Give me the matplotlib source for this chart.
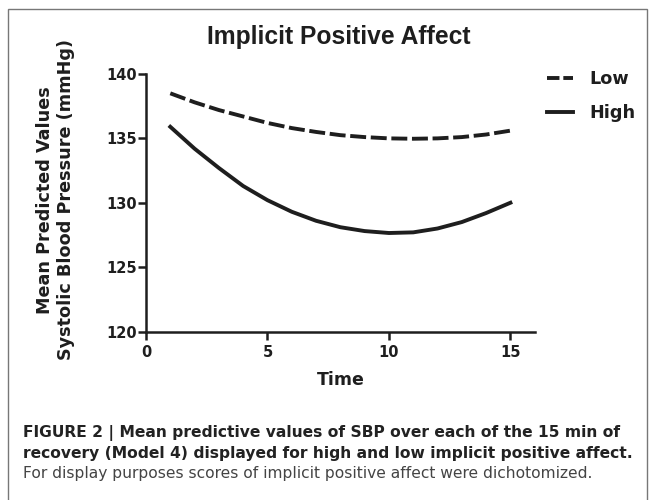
import matplotlib
matplotlib.use('Agg')
import matplotlib.pyplot as plt
from matplotlib.lines import Line2D
from matplotlib.patches import Rectangle

# minutes of recovery
time = list(range(1, 16))
# mean predicted SBP (mmHg)
low = [138.5, 137.8, 137.2, 136.7, 136.2, 135.8, 135.5, 135.25, 135.1, 135.0,
       134.97, 135.0, 135.1, 135.3, 135.6]
high = [135.9, 134.2, 132.7, 131.3, 130.2, 129.3, 128.6, 128.1, 127.8, 127.65,
        127.7, 128.0, 128.5, 129.2, 130.0]
x_ticks = [0, 5, 10, 15]
y_ticks = [120, 125, 130, 135, 140]

caption_bold = ['FIGURE 2 | Mean predictive values of SBP over each of the 15 min of',
                'recovery (Model 4) displayed for high and low implicit positive affect.']
caption_plain = 'For display purposes scores of implicit positive affect were dichotomized.'

plt.rcParams['font.family'] = ['DejaVu Sans']
ink = '#1e1e1e'
lw = 2.8

fig = plt.figure(figsize=(6.55, 5.0), dpi=100)
ax = fig.add_axes([146 / 655, 1 - 331.5 / 500, (534.7 - 146) / 655, (331.5 - 74) / 500])

ax.plot(time, low, color=ink, lw=lw, ls=(0, (4.1, 1.2)), dash_capstyle='butt')
ax.plot(time, high, color=ink, lw=lw)

ax.set_xlim(0, 16)
ax.set_ylim(120, 140)
ax.set_xticks(x_ticks)
ax.set_yticks(y_ticks)
for s in ['top', 'right']:
    ax.spines[s].set_visible(False)
for s in ['left', 'bottom']:
    ax.spines[s].set_linewidth(1.8)
    ax.spines[s].set_color(ink)
ax.tick_params(width=1.8, length=5.8, color=ink, labelsize=10.5)
ax.tick_params(axis='y', pad=1)
ax.tick_params(axis='x', pad=4)
for lab in ax.get_xticklabels() + ax.get_yticklabels():
    lab.set_fontweight('bold')
    lab.set_color(ink)

ax.set_xlabel('Time', fontsize=12.5, fontweight='bold', color=ink, labelpad=8)
fig.text(55.5 / 655, 1 - 200 / 500, 'Mean Predicted Values\nSystolic Blood Pressure (mmHg)',
         rotation=90, ha='center', va='center', fontsize=12.7, fontweight='bold',
         color=ink, linespacing=1.2)
fig.text(339 / 655, 1 - 44 / 500, 'Implicit Positive Affect', ha='center', va='baseline',
         fontsize=17.7, fontweight='bold', color=ink, family=['Liberation Sans', 'DejaVu Sans'])

handles = [Line2D([], [], color=ink, lw=lw, ls=(0, (3.2, 1.0)), dash_capstyle='butt'),
           Line2D([], [], color=ink, lw=lw)]
leg = ax.legend(handles, ['Low', 'High'], loc='upper left',
                bbox_to_anchor=(547 / 655, 1 - 70 / 500),
                bbox_transform=fig.transFigure, frameon=False, fontsize=12.7,
                handlelength=1.48, handletextpad=0.95, labelspacing=0.9,
                borderpad=0, borderaxespad=0)
for t in leg.get_texts():
    t.set_fontweight('bold')
    t.set_color(ink)

# caption
fig.text(23 / 655, 1 - 437.3 / 500, caption_bold[0], ha='left', va='baseline',
         fontsize=11.2, fontweight='bold', color='#222222')
fig.text(23 / 655, 1 - 458.3 / 500, caption_bold[1], ha='left', va='baseline',
         fontsize=11.2, fontweight='bold', color='#222222')
fig.text(23 / 655, 1 - 478 / 500, caption_plain, ha='left', va='baseline',
         fontsize=11.2, color='#444444')

# frame around the figure panel
fig.patches.append(Rectangle((7.5 / 655, -0.05), (647 - 7.5) / 655, 1.05 - 9 / 500,
                             transform=fig.transFigure, fill=False, ec='#777777', lw=1.0))

fig.savefig('out.png', dpi=100)
